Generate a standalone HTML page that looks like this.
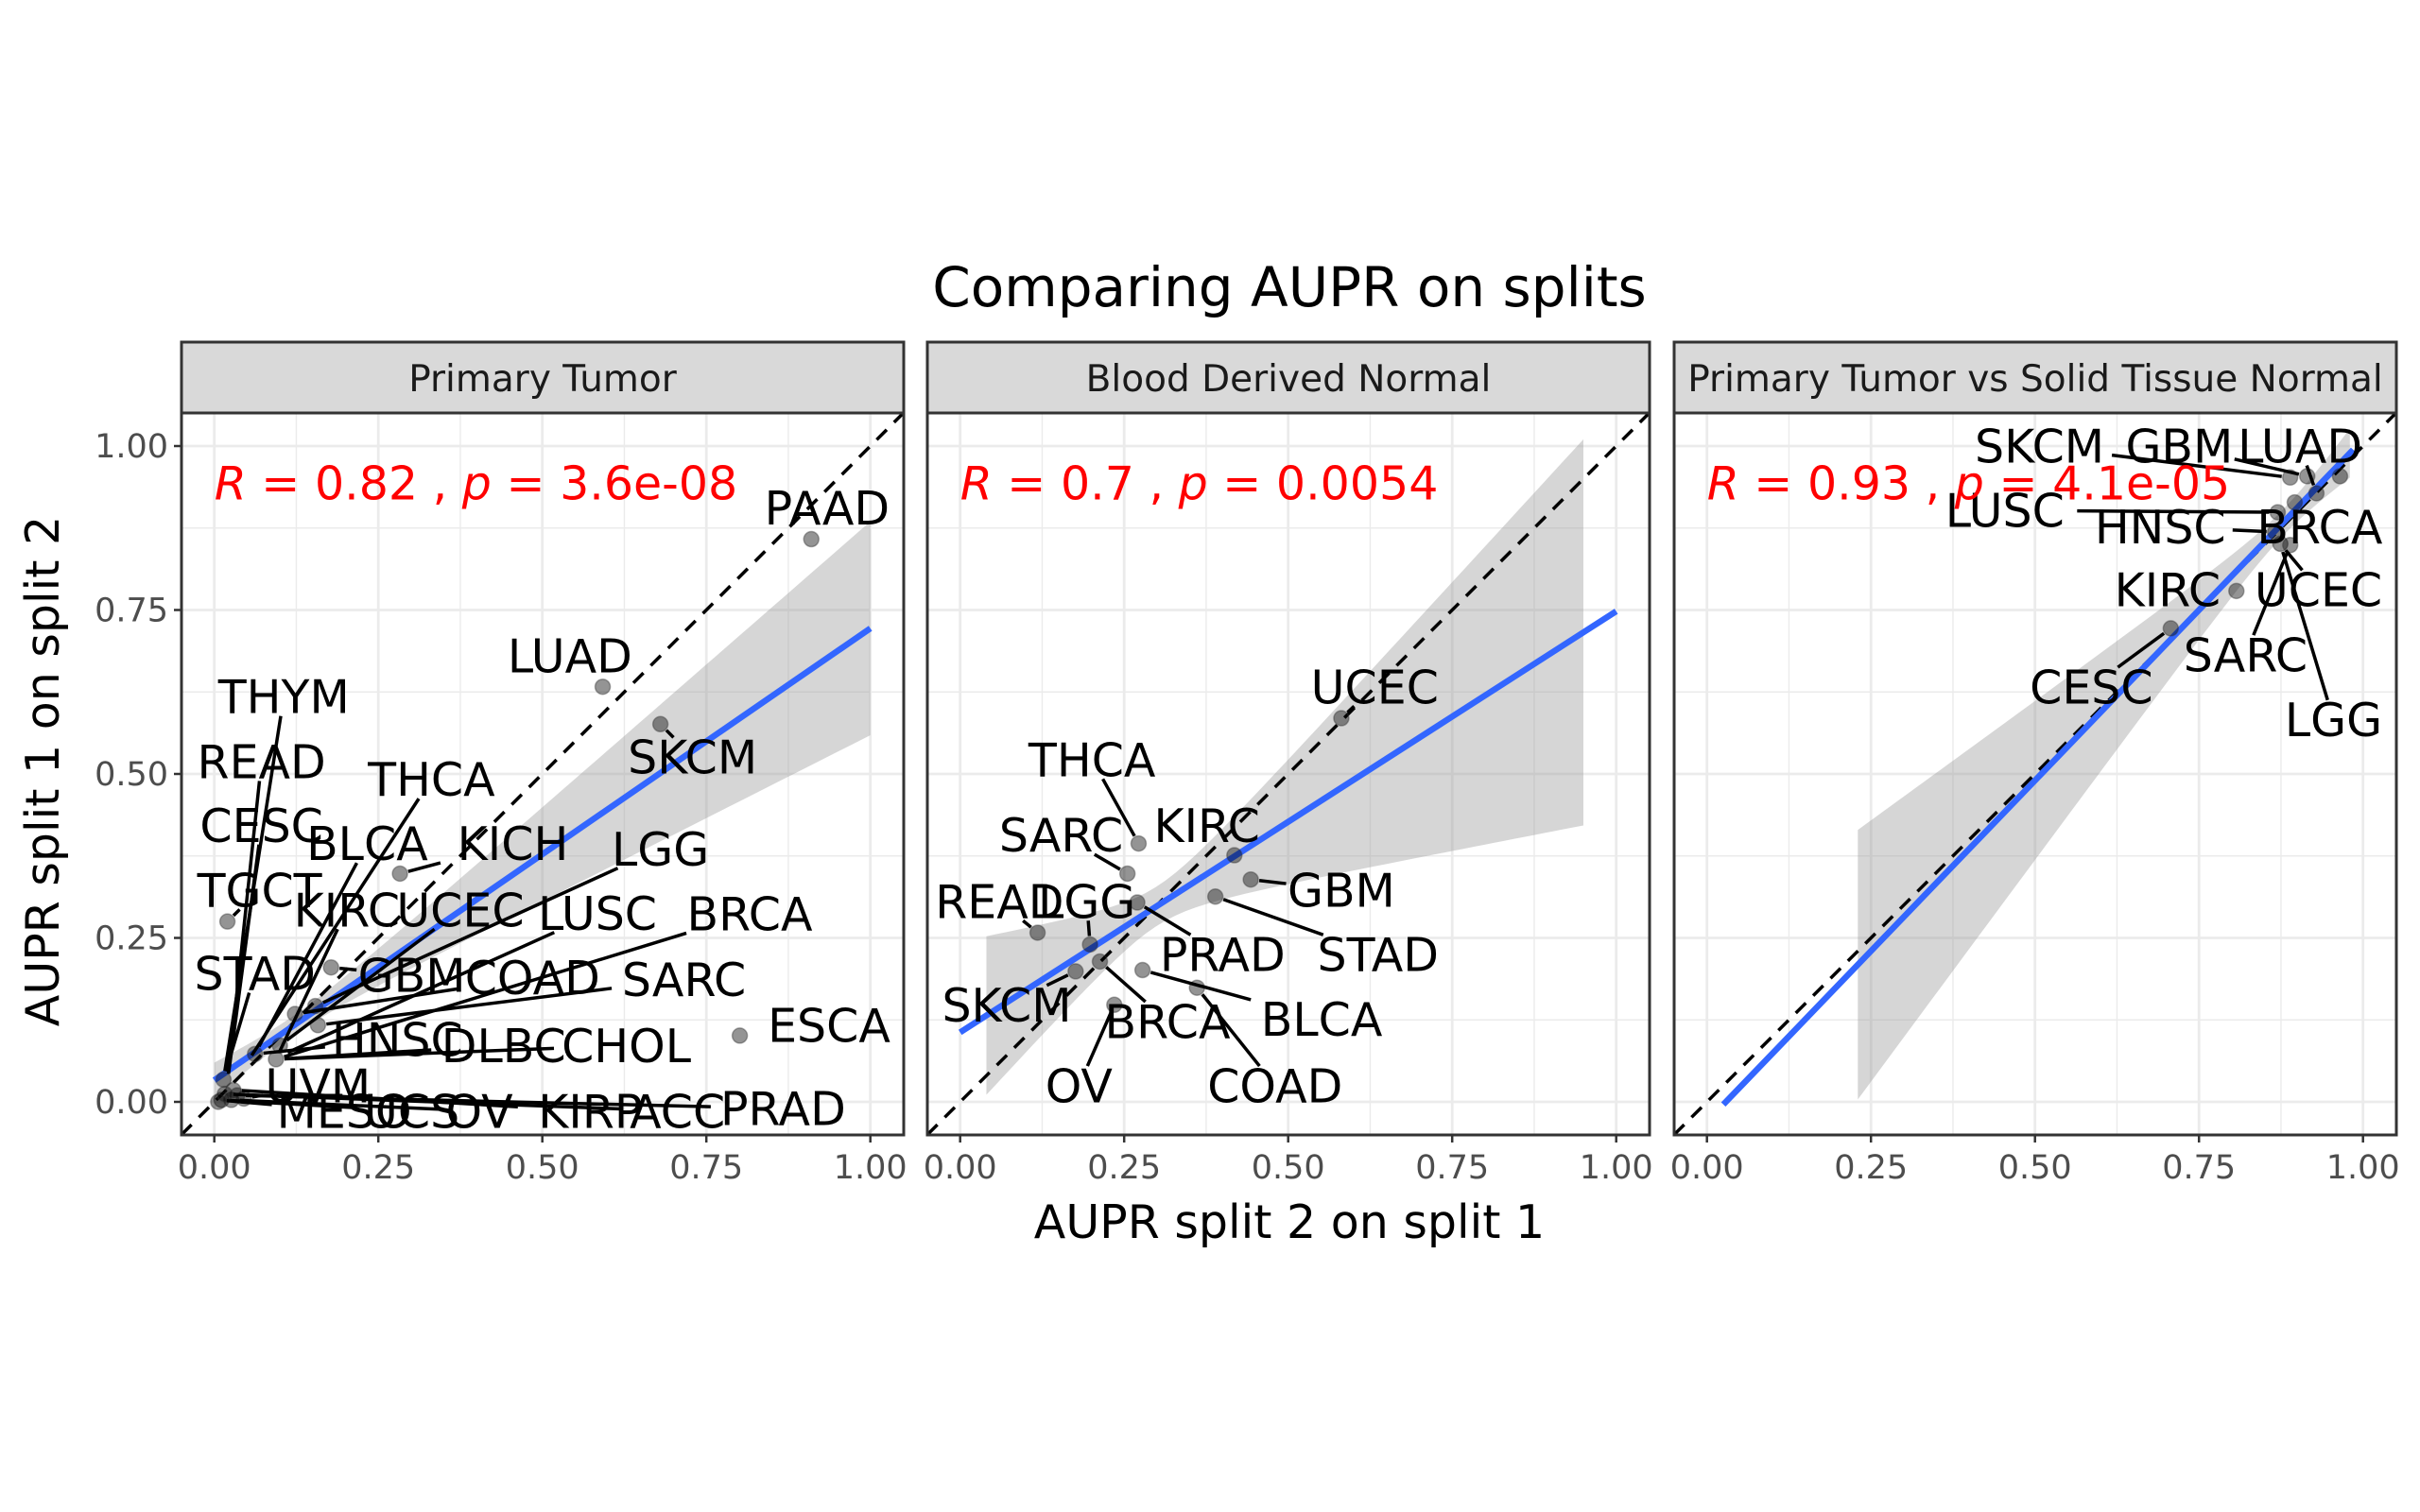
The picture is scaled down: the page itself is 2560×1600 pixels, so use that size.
<!DOCTYPE html>
<html><head><meta charset="utf-8"><title>Comparing AUPR on splits</title>
<style>body{margin:0;background:#fff}svg{display:block}text{font-family:"DejaVu Sans","Liberation Sans",sans-serif}</style>
</head><body>
<svg id="chart" width="2560" height="1600" viewBox="0 0 2560 1600" xmlns="http://www.w3.org/2000/svg">
<rect width="2560" height="1600" fill="#fff"/>
<text x="1364" y="324" font-size="58" text-anchor="middle" fill="#000">Comparing AUPR on splits</text>
<text x="1364" y="1310" font-size="49" text-anchor="middle" fill="#000">AUPR split 2 on split 1</text>
<text x="0" y="0" font-size="49" text-anchor="middle" fill="#000" transform="translate(62,816) rotate(-90)">AUPR split 1 on split 2</text>
</svg>
<script>
const panelTitles = ["Primary Tumor","Blood Derived Normal","Primary Tumor vs Solid Tissue Normal"];
const statTexts = [["0.82","3.6e-08"],["0.7","0.0054"],["0.93","4.1e-05"]];
const tickValues = [0,0.25,0.5,0.75,1];
const tickLabels = ["0.00","0.25","0.50","0.75","1.00"];
// points [x, y]
const pointsP1 = [[.910,.858],[.592,.633],[.680,.576],[.801,.101],[.020,.275],[.283,.348],[.178,.205],[.154,.146],[.158,.117],[.123,.134],[.094,.065],[.062,.073],[.014,.034],[.011,.003],[.026,.003],[.006,.000],[.029,.018],[.045,.005],[.100,.086],[.035,.010],[.016,.012]];
const pointsP2 = [[.581,.585],[.272,.394],[.418,.376],[.255,.348],[.443,.339],[.270,.304],[.389,.313],[.118,.258],[.198,.240],[.213,.214],[.278,.201],[.176,.199],[.361,.174],[.235,.148]];
const pointsP3 = [[.889,.952],[.915,.954],[.965,.954],[.896,.914],[.929,.928],[.870,.899],[.866,.869],[.874,.851],[.889,.849],[.807,.779],[.707,.722]];
// labels [name, labelX, labelY, pointX, pointY]
const labelsP1 = [["PAAD",.934,.906,.910,.858],["LUAD",.542,.68,.592,.633],["SKCM",.729,.526,.680,.576],["ESCA",.937,.117,.801,.101],
["THYM",.106,.618,.014,.034],["READ",.072,.519,.02,.03],["CESC",.072,.422,.02,.03],["TGCT",.069,.323,.020,.275],["STAD",.062,.196,.014,.034],
["BLCA",.233,.394,.062,.073],["THCA",.331,.492,.05,.06],["KICH",.455,.394,.283,.348],["KIRC",.202,.293,.094,.065],["UCEC",.375,.293,.100,.086],
["GBM",.301,.193,.178,.205],["COAD",.485,.19,.123,.134],["LUSC",.584,.288,.100,.07],["LGG",.680,.386,.154,.146],["BRCA",.816,.287,.094,.065],
["SARC",.716,.187,.158,.117],["HNSC",.279,.095,.062,.073],["DLBC",.441,.086,.094,.065],["CHOL",.628,.086,.094,.065],["UVM",.158,.025,.045,.005],
["MESO",.198,-.014,.006,.003],["UCS",.301,-.014,.011,.003],["OV",.404,-.014,.026,.003],["KIRP",.573,-.014,.029,.018],["ACC",.706,-.014,.016,.012],["PRAD",.867,-.01,.035,.010]];
const labelsP2 = [["UCEC",.632,.633,.581,.585],["THCA",.201,.522,.272,.394],["KIRC",.376,.422,.418,.376],["SARC",.154,.407,.255,.348],
["READ",.060,.306,.118,.258],["LGG",.193,.306,.198,.240],["PRAD",.400,.225,.270,.304],["GBM",.581,.323,.443,.339],["STAD",.637,.225,.389,.313],
["BLCA",.551,.126,.278,.201],["BRCA",.316,.123,.213,.214],["SKCM",.071,.148,.176,.199],["COAD",.480,.025,.361,.174],["OV",.181,.025,.235,.148]];
const labelsP3 = [["SKCM",.507,1.0,.889,.952],["GBM",.72,1.0,.915,.954],["LUAD",.904,1.0,.929,.928],["LUSC",.454,.902,.870,.899],
["HNSC",.691,.877,.866,.869],["BRCA",.934,.877,.896,.914],["KIRC",.702,.781,.807,.779],["UCEC",.932,.781,.874,.851],
["SARC",.821,.682,.889,.849],["CESC",.586,.633,.707,.722],["LGG",.955,.583,.874,.851]];
// fit [intercept, slope, bandStartX, bandEndX, xMean, minHalf, curvature]
const fitP1 = [0.033,0.689,0.0,1.0,0.12,0.015,0.034];
const fitP2 = [0.106,0.642,0.04,0.95,0.30,0.03,0.203];
const fitP3 = [-0.03,1.04,0.23,0.98,0.88,0.02,0.099];
const fitLineRange = [[0,1],[0,1],[0.025,0.985]];

const pointsAll=[pointsP1,pointsP2,pointsP3], labelsAll=[labelsP1,labelsP2,labelsP3], fitsAll=[fitP1,fitP2,fitP3];
const svg=document.getElementById('chart'), NS='http://www.w3.org/2000/svg';
function mk(tag,attrs,parent,txt){const e=document.createElementNS(NS,tag);for(const k in attrs)e.setAttribute(k,attrs[k]);if(txt!==undefined)e.textContent=txt;(parent||svg).appendChild(e);return e;}
const panelLefts=[192,981,1771], PW=764, PTOP=437, PBOT=1201, U=694;
for(let p=0;p<3;p++){
  const L=panelLefts[p];
  const sx=v=>L+34.7+v*U, sy=v=>1166-v*U;
  const g=mk('g',{});
  
  
  const st=mk('rect',{x:L,y:362,width:PW,height:PTOP-362,fill:'#d9d9d9',stroke:'#333','stroke-width':3},g);
  
  
  const stt=mk('text',{x:L+PW/2,y:414,'font-size':39,'text-anchor':'middle',fill:'#1a1a1a'},g,panelTitles[p]);
  
  
  for(let i=0;i<4;i++){const v=0.125+0.25*i;
    mk('line',{x1:sx(v),x2:sx(v),y1:PTOP,y2:PBOT,stroke:'#ebebeb','stroke-width':1.4},g);
    mk('line',{x1:L,x2:L+PW,y1:sy(v),y2:sy(v),stroke:'#ebebeb','stroke-width':1.4},g);}
  tickValues.forEach((v,i)=>{
    mk('line',{x1:sx(v),x2:sx(v),y1:PTOP,y2:PBOT,stroke:'#ebebeb','stroke-width':2.8},g);
    mk('line',{x1:L,x2:L+PW,y1:sy(v),y2:sy(v),stroke:'#ebebeb','stroke-width':2.8},g);
    mk('line',{x1:sx(v),x2:sx(v),y1:PBOT,y2:PBOT+8,stroke:'#333','stroke-width':2.5},g);
    const xl=mk('text',{x:sx(v),y:PBOT+46,'font-size':35,'text-anchor':'middle',fill:'#4d4d4d'},g,tickLabels[i]);
    
    
    if(p===0){
      mk('line',{x1:L-8,x2:L,y1:sy(v),y2:sy(v),stroke:'#333','stroke-width':2.5},g);
      const yl=mk('text',{x:L-14,y:sy(v)+12,'font-size':35,'text-anchor':'end',fill:'#4d4d4d'},g,tickLabels[i]);
      
      
    }
  });
  const cp='clip'+p;
  const cl=mk('clipPath',{id:cp},g); mk('rect',{x:L,y:PTOP,width:PW,height:PBOT-PTOP},cl);
  const inner=mk('g',{'clip-path':'url(#'+cp+')'},g);
  const f=fitsAll[p]; const up=[],lo=[];
  for(let k=0;k<=60;k++){const x=f[2]+(f[3]-f[2])*k/60;const m=f[0]+f[1]*x;const h=Math.sqrt(f[5]*f[5]+f[6]*(x-f[4])*(x-f[4]));up.push(sx(x)+','+sy(m+h));lo.unshift(sx(x)+','+sy(m-h));}
  const band=mk('polygon',{points:up.concat(lo).join(' '),fill:'#999','fill-opacity':0.4},inner);
  
  
  const dg=mk('line',{x1:sx(-0.05),y1:sy(-0.05),x2:sx(1.05),y2:sy(1.05),stroke:'#000','stroke-width':3.5,'stroke-dasharray':'15,11'},inner);
  
  
  const r=fitLineRange[p];
  const fl=mk('line',{x1:sx(r[0]),y1:sy(f[0]+f[1]*r[0]),x2:sx(r[1]),y2:sy(f[0]+f[1]*r[1]),stroke:'#3366FF','stroke-width':6.5},inner);
  
  
  pointsAll[p].forEach(pt=>{
    const c=mk('circle',{cx:sx(pt[0]),cy:sy(pt[1]),r:8,fill:'#000','fill-opacity':0.42,stroke:'#333','stroke-opacity':0.4,'stroke-width':1.5},inner);
    
    
  });
  const FS=49;
  labelsAll[p].forEach(lb=>{
    const lx=sx(lb[1]), ly=sy(lb[2]), px=sx(lb[3]), py=sy(lb[4]);
    const hw=lb[0].length*FS*0.37+4, hh=FS*0.42;
    const dx=px-lx, dy=py-ly;
    if(Math.abs(dx)>hw||Math.abs(dy)>hh){
      const t=Math.min(Math.abs(dx)>0?hw/Math.abs(dx):1e9, Math.abs(dy)>0?hh/Math.abs(dy):1e9);
      const d=Math.hypot(dx*(1-t),dy*(1-t));
      if(d>18){
        const s=mk('line',{x1:lx+dx*t,y1:ly+dy*t,x2:px-dx/Math.hypot(dx,dy)*9,y2:py-dy/Math.hypot(dx,dy)*9,stroke:'#000','stroke-width':3.5},inner);
        
        
      }
    }
    const t=mk('text',{x:lx,y:ly+FS*0.36,'font-size':FS,'text-anchor':'middle',fill:'#000'},inner,lb[0]);
    
    
  });
  const rt=mk('text',{x:sx(0),y:sy(0.943)+17,'font-size':49,fill:'#ff0000'},inner);
  
  
  mk('tspan',{'font-style':'italic'},rt,'R');
  mk('tspan',{},rt,' = '+statTexts[p][0]+' , ');
  mk('tspan',{'font-style':'italic'},rt,'p');
  mk('tspan',{},rt,' = '+statTexts[p][1]);
  const bd=mk('rect',{x:L,y:PTOP,width:PW,height:PBOT-PTOP,fill:'none',stroke:'#333','stroke-width':3},g);
  
  
}
</script>
</body></html>
